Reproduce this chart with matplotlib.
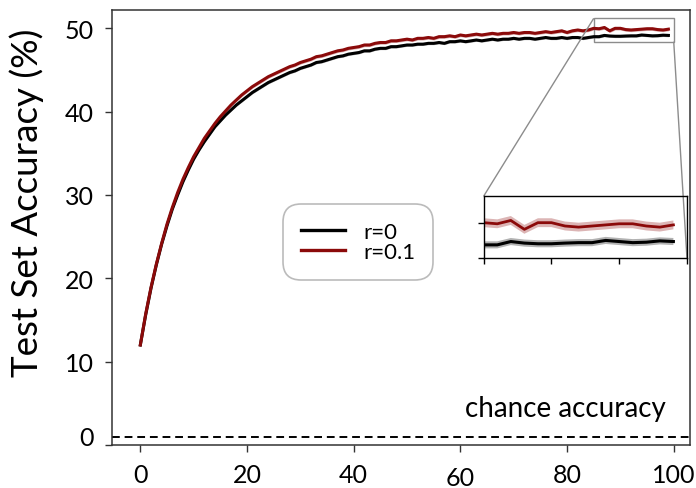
import matplotlib
matplotlib.use("Agg")
import matplotlib.pyplot as plt
import matplotlib.transforms as mtransforms
import numpy as np
from mpl_toolkits.axes_grid1.inset_locator import mark_inset

plt.rcParams['font.family'] = ['Lato', 'DejaVu Sans']

epochs = list(range(100))

acc_r0 = [12.0, 15.6, 18.8, 21.6, 24.1, 26.3, 28.3, 30.0, 31.6, 33.0,
          34.3, 35.4, 36.4, 37.3, 38.2, 38.9, 39.6, 40.2, 40.8, 41.3,
          41.8, 42.3, 42.7, 43.1, 43.5, 43.8, 44.1, 44.4, 44.7, 44.9,
          45.2, 45.4, 45.6, 45.9, 46.0, 46.2, 46.4, 46.6, 46.7, 46.9,
          47.0, 47.1, 47.3, 47.3, 47.5, 47.6, 47.6, 47.8, 47.8, 47.9,
          48.0, 48.0, 48.1, 48.1, 48.2, 48.2, 48.3, 48.2, 48.4, 48.4,
          48.5, 48.4, 48.5, 48.6, 48.5, 48.6, 48.7, 48.6, 48.7, 48.7,
          48.8, 48.7, 48.8, 48.8, 48.7, 48.8, 48.9, 48.8, 48.8, 48.9,
          48.8, 48.9, 48.9, 48.8, 48.9, 49.0, 49.0, 49.15, 49.08, 49.05,
          49.05, 49.08, 49.1, 49.1, 49.2, 49.15, 49.1, 49.12, 49.18, 49.15]

acc_r01 = [12.0, 15.7, 18.9, 21.7, 24.2, 26.5, 28.5, 30.3, 31.9, 33.3,
           34.6, 35.7, 36.8, 37.7, 38.6, 39.4, 40.1, 40.8, 41.4, 42.0,
           42.5, 43.0, 43.4, 43.8, 44.2, 44.5, 44.8, 45.1, 45.4, 45.6,
           45.9, 46.1, 46.3, 46.6, 46.7, 46.9, 47.1, 47.3, 47.4, 47.6,
           47.7, 47.8, 48.0, 48.0, 48.2, 48.3, 48.3, 48.5, 48.5, 48.6,
           48.7, 48.6, 48.8, 48.8, 48.9, 48.8, 49.0, 49.0, 49.1, 49.0,
           49.2, 49.1, 49.2, 49.3, 49.2, 49.3, 49.4, 49.3, 49.4, 49.4,
           49.5, 49.4, 49.5, 49.5, 49.4, 49.5, 49.6, 49.5, 49.6, 49.7,
           49.5, 49.7, 49.8, 49.7, 49.8, 50.0, 49.95, 50.1, 49.7, 50.0,
           50.0, 49.85, 49.8, 49.85, 49.9, 49.95, 49.95, 49.85, 49.8, 49.9]

band_r0 = 0.16
band_r01 = 0.2
chance = 1.0

series_labels = ['r=0', 'r=0.1']
x_ticks = [0, 20, 40, 60, 80, 100]
y_ticks = [0, 10, 20, 30, 40, 50]

c_black = '#000000'
c_red = '#8B0A0A'

fig = plt.figure(figsize=(6.96, 4.89), dpi=100)
ax = fig.add_axes([0.161, 0.088, 0.830, 0.8895])

x = np.array(epochs)
y0 = np.array(acc_r0)
y1 = np.array(acc_r01)

ax.fill_between(x, y0 - band_r0, y0 + band_r0, color=c_black, alpha=0.3, lw=0)
ax.plot(x, y0, color=c_black, lw=2.2, label=series_labels[0])
ax.fill_between(x, y1 - band_r01, y1 + band_r01, color=c_red, alpha=0.3, lw=0)
ax.plot(x, y1, color=c_red, lw=2.2, label=series_labels[1])

ax.axhline(chance, color='black', lw=1.4, ls=(0, (4, 2.5)))
ax.text(98.5, 4.4, 'chance accuracy', ha='right', va='center', fontsize=20)

ax.set_xlim(-5.3, 103)
ax.set_ylim(0, 52.2)
ax.set_xticks(x_ticks)
ax.set_yticks(y_ticks)
ax.set_xticklabels([str(t) for t in x_ticks])
ax.set_yticklabels([str(t) for t in y_ticks])
ax.tick_params(axis='both', direction='out', length=5, width=1, color='#333333',
               labelsize=18)
ax.tick_params(axis='x', pad=8)
ax.tick_params(axis='y', pad=8)
for sp in ax.spines.values():
    sp.set_color('#333333')
    sp.set_linewidth(1.1)

# label offsets as in reference
for lab in ax.get_yticklabels():
    if lab.get_text() == '0':
        lab.set_transform(lab.get_transform() + mtransforms.ScaledTranslation(0, 7/72, fig.dpi_scale_trans))
for lab in ax.get_xticklabels():
    if lab.get_text() == '60':
        lab.set_transform(lab.get_transform() + mtransforms.ScaledTranslation(0, -2.5/72, fig.dpi_scale_trans))

ax.set_ylabel('Test Set Accuracy (%)', fontsize=26.5)
ax.yaxis.set_label_coords(-0.118, 0.56)

leg = ax.legend(loc='center', bbox_to_anchor=(0.426, 0.467), fontsize=16,
                frameon=True, fancybox=True, edgecolor='#aaaaaa',
                handlelength=2.0, borderpad=0.8, labelspacing=0.0,
                handletextpad=0.8)
leg.get_frame().set_linewidth(1.2)
leg.get_frame().set_boxstyle('round', pad=0.0, rounding_size=0.8)
for h in leg.get_lines():
    h.set_linewidth(2.4)

# inset
axins = fig.add_axes([0.695, 0.470, 0.292, 0.127])
axins.fill_between(x, y0 - band_r0, y0 + band_r0, color=c_black, alpha=0.3, lw=0)
axins.plot(x, y0, color=c_black, lw=2.2)
axins.fill_between(x, y1 - band_r01, y1 + band_r01, color=c_red, alpha=0.3, lw=0)
axins.plot(x, y1, color=c_red, lw=2.0)
axins.set_xlim(85, 100)
axins.set_ylim(48.4, 51.2)
axins.set_xticks([85, 90, 95, 100])
axins.set_yticks([48.4, 50])
axins.set_xticklabels([])
axins.set_yticklabels([])
axins.tick_params(direction='out', length=4, width=1)
for sp in axins.spines.values():
    sp.set_color('black')
    sp.set_linewidth(1.0)
mark_inset(ax, axins, loc1=2, loc2=4, fc='none', ec='0.55', lw=1.0)

fig.savefig('out.png', dpi=100)
